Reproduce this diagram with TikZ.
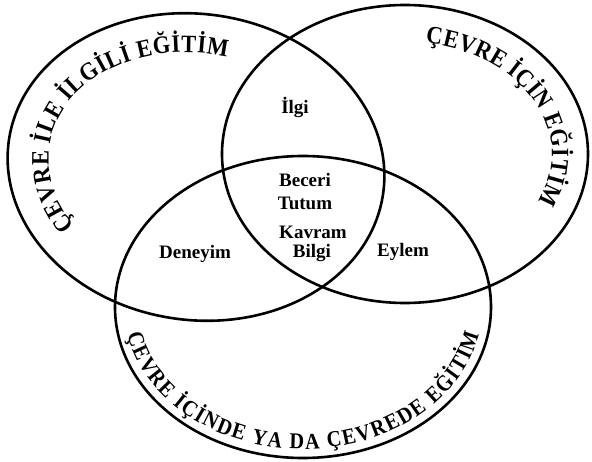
\documentclass[tikz,border=0pt]{standalone}
\usepackage{fontspec}
\setmainfont{Liberation Serif}
\newfontfamily\curvefam[FakeStretch=0.9]{Liberation Serif}
\usetikzlibrary{decorations.text,calc}
\newcommand{\cf}{\curvefam\fontsize{25}{25}\selectfont\bfseries}
\newcommand{\cfb}{\curvefam\fontsize{22.5}{22.5}\selectfont\bfseries}
\begin{document}
\begin{tikzpicture}[x=1pt,y=1pt,
  ring/.style={line width=2.6pt},
  lbl/.style={font=\fontsize{19}{19}\selectfont\bfseries, inner sep=0pt},
  curve/.style={decorate, decoration={text along path, text align={fit to path}}}]
\useasboundingbox (0,0) rectangle (592,461);
\coordinate (L) at (196,294);
\coordinate (R) at (405,307);
\coordinate (B) at (303,154);
% circles
\begin{scope}[rotate around={-8:(L)}]
  \draw[ring] (L) ellipse [x radius=189pt, y radius=153pt];
  \path[curve, decoration={text={|\cf|ÇEVRE İLE İLGİLİ EĞİTİM}}]
    ($(L)+(221:148 and 114)$) arc [start angle=221, end angle=84, x radius=148pt, y radius=114pt];
\end{scope}
\draw[ring] (R) ellipse [x radius=183pt, y radius=149pt];
\path[curve, decoration={text={|\cf|ÇEVRE İÇİN EĞİTİM}}]
  ($(R)+(82:147 and 112)$) arc [start angle=82, end angle=-25, x radius=147pt, y radius=112pt];
\draw[ring] (B) ellipse [x radius=188pt, y radius=151pt];
\path[curve, decoration={text={|\cfb|ÇEVRE İÇİNDE YA DA ÇEVREDE EĞİTİM}}]
  ($(B)+(191:179 and 142)$) arc [start angle=191, end angle=349, x radius=179pt, y radius=142pt];
% labels
\node[lbl] (ilgi) at (295,354) {İlgi};
\node[lbl] (beceri) at (305,281) {Beceri};
\node[lbl] (tutum) at (305,258) {Tutum};
\node[lbl] (kavram) at (313,229) {Kavram};
\node[lbl] (bilgi) at (312,208) {Bilgi};
\node[lbl] (deneyim) at (195,207) {Deneyim};
\node[lbl] (eylem) at (403,209) {Eylem};
\end{tikzpicture}
\end{document}
